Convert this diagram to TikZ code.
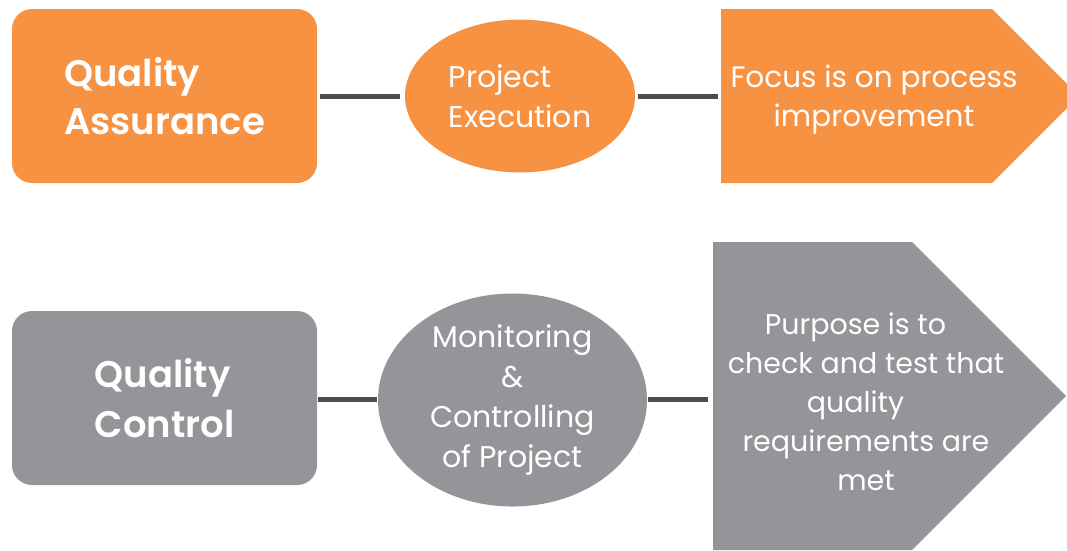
\documentclass[tikz,border=0pt]{standalone}
\usepackage{fontspec}
\setmainfont{Poppins}[BoldFont={Poppins SemiBold}]
\usetikzlibrary{shapes.geometric}
\definecolor{qorange}{RGB}{247,146,67}
\definecolor{qgray}{RGB}{147,149,152}
\definecolor{qline}{RGB}{77,77,80}
\newcommand{\trailgap}{\hbox to 21pt{}}
\begin{document}
\begin{tikzpicture}[x=1pt,y=-1pt,
  box/.style={rounded corners=20pt, minimum width=305pt, minimum height=174pt, inner sep=0pt,
    text=white, align=left},
  oval/.style={ellipse, inner sep=0pt, text=white},
  body/.style={text=white, align=center, inner sep=0pt},
  conn/.style={draw=qline, line width=5pt}]
\useasboundingbox (0,0) rectangle (1067,550);
% top row
\node[box, fill=qorange, font=\bfseries\fontsize{37}{48}\selectfont] (qa) at (164.5,96) {Quality\\Assurance};
\node[oval, fill=qorange, minimum width=230pt, minimum height=153pt, align=left, font=\fontsize{30}{40}\selectfont] (pe) at (520,96) {Project\\Execution};
\fill[qorange] (721,9) -- (992,9) -- (1079,96) -- (992,183) -- (721,183) -- cycle;
\coordinate (fpw) at (721,96);
\node[body, font=\fontsize{29.5}{39}\selectfont] (fp) at (874,99.5) {Focus is on process\\improvement};
\draw[conn, shorten <=3pt, shorten >=5pt] (qa.east) -- (qa.east -| pe.west);
\draw[conn, shorten <=3pt, shorten >=3pt] (pe.east) -- (fpw);
% bottom row
\node[box, fill=qgray, font=\bfseries\fontsize{37}{50}\selectfont] (qc) at (164.5,398) {Quality\\Control};
\node[oval, fill=qgray, minimum width=269pt, minimum height=187pt, align=center, font=\fontsize{30}{40}\selectfont] (mc) at (512.5,400) {Monitoring\\\&\\Controlling\\of Project};
\fill[qgray] (713,242) -- (912,242) -- (1066,396) -- (912,550) -- (713,550) -- cycle;
\coordinate (ptw) at (713,399);
\node[body, font=\fontsize{28.5}{39}\selectfont] (pt) at (866,402) {Purpose is to\trailgap\\check and test that\\quality\trailgap\\requirements are\\met};
\draw[conn, shorten <=1pt, shorten >=1pt] (qc.east |- 0,399) -- (mc.west |- 0,399);
\draw[conn, shorten <=1pt, shorten >=5pt] (mc.east |- 0,399) -- (ptw);
\end{tikzpicture}
\end{document}
